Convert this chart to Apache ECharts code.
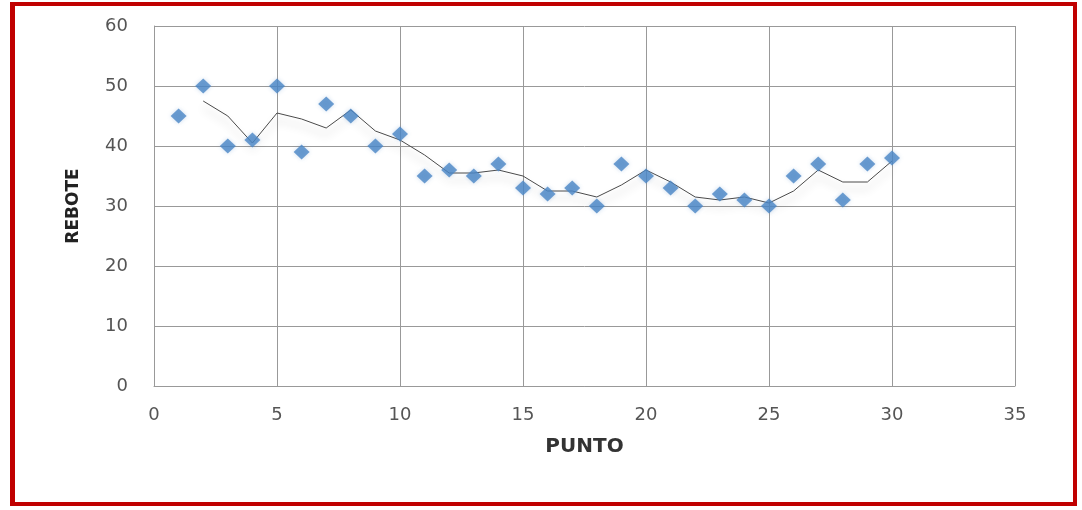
<!DOCTYPE html>
<html>
<head>
<meta charset="utf-8">
<script src="https://cdn.jsdelivr.net/npm/echarts@6/dist/echarts.min.js"></script>
<style>
  html, body { margin: 0; padding: 0; background: #ffffff; }
  #frame {
    position: absolute; left: 10px; top: 2px; width: 1067px; height: 504px;
    border: 4px solid #c00000; box-sizing: border-box;
    border-left-width: 5px; border-right-width: 4px;
  }
  #chart { position: absolute; left: 0; top: 0; width: 1082px; height: 510px; }
</style>
</head>
<body>
<div id="frame"></div>
<div id="chart"></div>
<script>
// Rebound measurement per point
const punto = [1, 2, 3, 4, 5, 6, 7, 8, 9, 10, 11, 12, 13, 14, 15,
               16, 17, 18, 19, 20, 21, 22, 23, 24, 25, 26, 27, 28, 29, 30];
const rebote = [45, 50, 40, 41, 50, 39, 47, 45, 40, 42, 35, 36, 35, 37, 33,
                32, 33, 30, 37, 35, 33, 30, 32, 31, 30, 35, 37, 31, 37, 38];
// Two-period moving-average trend line (starts at point 2)
const tendencia = [null, 47.5, 45, 40.5, 45.5, 44.5, 43, 46, 42.5, 41, 38.5, 35.5, 35.5, 36, 35,
                   32.5, 32.5, 31.5, 33.5, 36, 34, 31.5, 31, 31.5, 30.5, 32.5, 36, 34, 34, 37.5];
const xTicks = [0, 5, 10, 15, 20, 25, 30, 35];
const yTicks = [0, 10, 20, 30, 40, 50, 60];

const pts = punto.map((x, i) => [x, rebote[i]]);
const trend = punto.map((x, i) => [x, tendencia[i]]).filter(d => d[1] !== null);

const chart = echarts.init(document.getElementById('chart'));
const font = '"DejaVu Sans", "Open Sans", sans-serif';
chart.setOption({
  animation: false,
  backgroundColor: 'transparent',
  grid: { left: 154, right: 67, top: 26, bottom: 124 },
  xAxis: {
    type: 'value', min: xTicks[0], max: xTicks[xTicks.length - 1], interval: 5,
    name: 'PUNTO', nameLocation: 'middle', nameGap: 51,
    nameTextStyle: { fontFamily: font, fontSize: 20, fontWeight: 'bold', color: '#333333' },
    axisLine: { show: true, lineStyle: { color: '#999999', width: 1 } },
    axisTick: { show: false },
    axisLabel: { fontFamily: font, fontSize: 18, color: '#555555', margin: 20 },
    splitLine: { show: true, lineStyle: { color: '#999999', width: 1 } }
  },
  yAxis: {
    type: 'value', min: yTicks[0], max: yTicks[yTicks.length - 1], interval: 10,
    name: 'REBOTE', nameLocation: 'middle', nameGap: 72, nameRotate: 90,
    nameTextStyle: { fontFamily: font, fontSize: 17, fontWeight: 'bold', color: '#222222' },
    axisLine: { show: true, lineStyle: { color: '#999999', width: 1 } },
    axisTick: { show: false },
    axisLabel: { fontFamily: font, fontSize: 18, color: '#555555', margin: 26 },
    splitLine: { show: true, lineStyle: { color: '#999999', width: 1 } }
  },
  series: [
    {
      type: 'line', data: trend, symbol: 'none', z: 2,
      lineStyle: {
        color: '#4a4a4a', width: 1,
        shadowColor: 'rgba(0,0,0,0.3)', shadowBlur: 8, shadowOffsetY: 7
      }
    },
    {
      type: 'scatter', data: pts, symbol: 'diamond', symbolSize: [16, 15], z: 3,
      itemStyle: {
        color: '#4a86c5',
        shadowColor: 'rgba(74,134,197,0.35)', shadowBlur: 4
      }
    }
  ]
});
</script>
</body>
</html>
